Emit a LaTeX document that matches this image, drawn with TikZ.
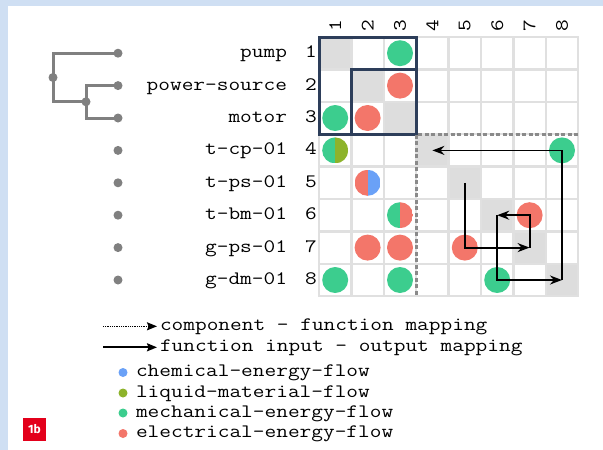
\documentclass[tikz,border=0pt]{standalone}
\usepackage{graphicx}
\usepackage{fontspec}
\newfontfamily\tagfont{Fira Sans}
\usetikzlibrary{arrows.meta}
\definecolor{bgblue}{HTML}{CFDFF3}
\definecolor{cgreen}{HTML}{3CCD8E}
\definecolor{cred}{HTML}{F3766A}
\definecolor{cblue}{HTML}{6AA1F7}
\definecolor{colive}{HTML}{8DB32B}
\definecolor{navy}{HTML}{2D3E5A}
\definecolor{gridgray}{HTML}{E0E0E0}
\definecolor{diaggray}{HTML}{DDDDDD}
\definecolor{treegray}{HTML}{808080}
\definecolor{dashgray}{HTML}{8A8A8A}
\definecolor{tagred}{HTML}{E3001B}
\newcommand\ttf{\fontfamily{lmtt}\fontseries{m}\fontsize{19}{19}\selectfont}
\newcommand\wt[1]{\scalebox{1.195}[1]{#1}}
\begin{document}
\begin{tikzpicture}[x=1pt,y=-1pt,
  cell/.style={rectangle, minimum size=32.4pt, inner sep=0pt, outer sep=0pt, draw=gridgray, line width=2.5pt},
  fdot/.style={circle, minimum size=26pt, inner sep=0pt, outer sep=0pt, fill=#1},
  halfdot/.style 2 args={circle, minimum size=26pt, inner sep=0pt, outer sep=0pt,
    path picture={\fill[#1] (path picture bounding box.south west) rectangle (path picture bounding box.north);
                  \fill[#2] (path picture bounding box.south) rectangle (path picture bounding box.north east);}},
  nm/.style={font=\ttf, inner sep=0pt, outer sep=0pt},
  flow/.style={draw=black, line width=1.8pt, -{Stealth[length=12pt,width=9pt]}},
  tline/.style={draw=treegray, line width=3pt},
  tdot/.style={circle, fill=treegray, minimum size=9pt, inner sep=0pt, outer sep=0pt},
  ldot/.style={circle, minimum size=9pt, inner sep=0pt, fill=#1},
  lgarrow/.style={draw=black, -{Stealth[length=10pt,width=8pt,inset=1.5pt]}},
]
\useasboundingbox (0,0) rectangle (603,450);
\fill[bgblue] (0,0) rectangle (603,450);
\fill[white] (8,6) rectangle (603,450);

% matrix cells
\foreach \r in {1,...,8}{
  \foreach \c in {1,...,8}{
    \ifnum\r=\c\def\cf{diaggray}\else\def\cf{white}\fi
    \node[cell, fill=\cf] (m-\r-\c) at ({319+32.4*(\c-0.5)}, {37+32.4*(\r-0.5)}) {};
  }
}

% column and row numbers
\foreach \i in {1,...,8}{
  \node[nm, rotate=90] (k\i) at ({319+32.4*(\i-0.5)}, 26) {\wt{\i}};
  \node[nm, anchor=base] (r\i) at (311, {37+32.4*(\i-0.5)+4.5}) {\wt{\i}};
}

% names
\foreach \nmm [count=\i] in {pump, power-source, motor, t-cp-01, t-ps-01, t-bm-01, g-ps-01, g-dm-01}{
  \node[nm, anchor=base east] (n\i) at (287, {37+32.4*(\i-0.5)+4.5}) {\wt{\nmm}};
  \node[tdot] (t\i) at (118, {37+32.4*(\i-0.5)}) {};
}

% dendrogram
\node[tdot] (tin) at (86, 101.8) {};
\node[tdot] (troot) at (53, 77.5) {};
\draw[tline] (troot.center) |- (t1.center);
\draw[tline] (troot.center) |- (tin.center);
\draw[tline] (tin.center) |- (t2.center);
\draw[tline] (tin.center) |- (t3.center);

% blocks
\draw[navy, line width=3pt] (m-1-1.north west) rectangle (m-3-3.south east);
\draw[navy, line width=3pt] (m-2-2.north west) rectangle (m-3-3.south east);
\draw[dashgray, line width=3pt, dash pattern=on 4pt off 2.5pt] (m-4-8.north east) -- (m-4-4.north west) -- (m-8-4.south west);

% circles
\node[fdot=cgreen] (d13) at (m-1-3) {};
\node[fdot=cred] (d23) at (m-2-3) {};
\node[fdot=cgreen] (d31) at (m-3-1) {};
\node[fdot=cred] (d32) at (m-3-2) {};
\node[halfdot={cgreen}{colive}] (d41) at (m-4-1) {};
\node[fdot=cgreen] (d48) at (m-4-8) {};
\node[halfdot={cred}{cblue}] (d52) at (m-5-2) {};
\node[halfdot={cgreen}{cred}] (d63) at (m-6-3) {};
\node[fdot=cred] (d67) at (m-6-7) {};
\node[fdot=cred] (d72) at (m-7-2) {};
\node[fdot=cred] (d73) at (m-7-3) {};
\node[fdot=cred] (d75) at (m-7-5) {};
\node[fdot=cgreen] (d81) at (m-8-1) {};
\node[fdot=cgreen] (d83) at (m-8-3) {};
\node[fdot=cgreen] (d86) at (m-8-6) {};

% function input-output arrows
\draw[flow] (m-5-5.center) |- (m-7-7.center);
\draw[flow] (m-7-7.center) |- (m-6-6.center);
\draw[flow] (m-6-6.center) |- (m-8-8.center);
\draw[flow] (m-8-8.center) |- (m-4-4.center);

% legend
\node[nm, anchor=base west] (lg1) at (160,330) {\wt{component - function mapping}};
\node[nm, anchor=base west] (lg2) at (160,351) {\wt{function input - output mapping}};
\coordinate (la1) at ([xshift=-57pt]lg1.west);
\coordinate (la2) at ([xshift=-57pt]lg2.west);
\draw[lgarrow, line width=1.4pt, dash pattern=on 1pt off 0.8pt] (la1) -- ([xshift=-3pt]lg1.west);
\draw[lgarrow, line width=1.8pt] (la2) -- ([xshift=-3pt]lg2.west);

\foreach \lab/\col/\yy [count=\i] in {chemical-energy-flow/cblue/372.5, liquid-material-flow/colive/393, mechanical-energy-flow/cgreen/413, electrical-energy-flow/cred/433.5}{
  \node[ldot=\col] (ld\i) at (123,\yy) {};
  \node[nm, anchor=base west] (lt\i) at (136, \yy+4.2) {\wt{\lab}};
}

% tag
\node[fill=tagred, minimum size=23pt, inner sep=0pt, text=white, font=\tagfont\bfseries\fontsize{12}{12}\selectfont] (tag) at (34.5,429.5) {1b};
\end{tikzpicture}
\end{document}
